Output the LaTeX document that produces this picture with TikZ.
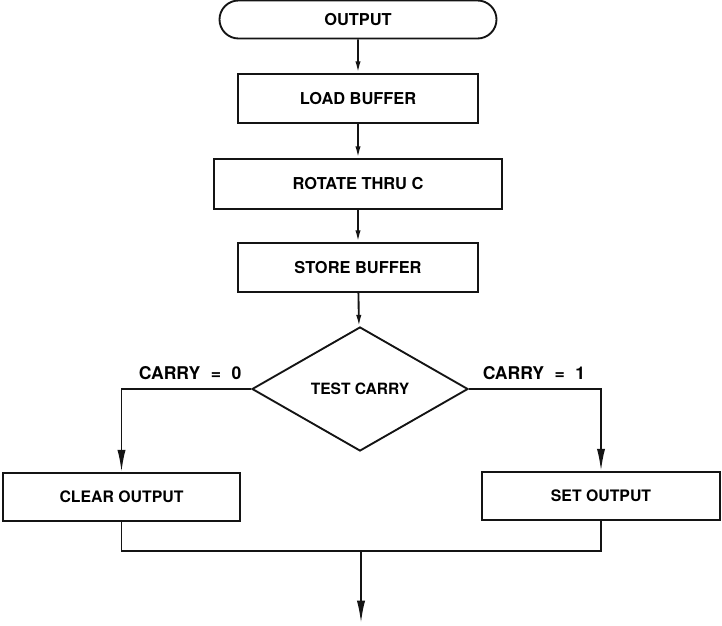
\documentclass[tikz,border=0pt]{standalone}
\usepackage{fontspec}
\setmainfont{TeX Gyre Heros}
\usepackage{tikz}
\usetikzlibrary{arrows.meta,shapes,positioning,calc}
\definecolor{inkBlack}{RGB}{20,20,20}

\begin{document}
\begin{tikzpicture}[
    line width=1.6pt,draw=inkBlack,
    caixa/.style={draw=inkBlack,rectangle,inner sep=0pt,line width=1.6pt,
      font=\bfseries\fontsize{14}{16}\selectfont},
    rotulo/.style={inner sep=0pt,font=\bfseries\fontsize{15}{17}\selectfont},
    seta/.style={-{Latex[length=10pt,width=4.5pt]}},
    setag/.style={-{Latex[length=19pt,width=7pt]}}]
        \useasboundingbox (0,0) rectangle (21.66,18.75);
        % Blocos
        \node[caixa,rounded rectangle,minimum width=8.31cm,minimum height=1.14cm]
          (saida) at (10.74,18.165) {OUTPUT};
        \node[caixa,minimum width=7.2cm,minimum height=1.47cm]
          (carrega) at (10.74,15.795) {LOAD BUFFER};
        \node[caixa,minimum width=8.64cm,minimum height=1.5cm]
          (roda) at (10.74,13.23) {ROTATE THRU C};
        \node[caixa,minimum width=7.2cm,minimum height=1.47cm]
          (guarda) at (10.74,10.725) {STORE BUFFER};
        \node[caixa,diamond,minimum width=6.48cm,minimum height=3.72cm,
          font=\bfseries\fontsize{13.3}{15}\selectfont]
          (teste) at (10.8,7.08) {TEST CARRY};
        \node[caixa,minimum width=7.11cm,minimum height=1.44cm,
          font=\bfseries\fontsize{13.5}{15}\selectfont]
          (limpa) at (3.645,3.84) {CLEAR OUTPUT};
        \node[caixa,minimum width=7.14cm,minimum height=1.44cm,
          font=\bfseries\fontsize{13.5}{15}\selectfont]
          (liga) at (18.03,3.87) {SET OUTPUT};
        \coordinate (junta) at (10.83,2.22);
        \coordinate (fim) at (10.83,0.06);
        % Rotulos
        \node[rotulo,anchor=south east,above left=7.5pt and 7.5pt of teste.west]
          (c0) {CARRY\hspace{0.6em}=\hspace{0.6em}0};
        \node[rotulo,anchor=south west,above right=7.5pt and 11pt of teste.east]
          (c1) {CARRY\hspace{0.6em}=\hspace{0.6em}1};
        % Ligacoes
        \draw[seta] (saida) -- (carrega);
        \draw[seta] (carrega) -- (roda);
        \draw[seta] (roda) -- (guarda);
        \draw[seta] (guarda) -- (teste);
        \draw[setag] (teste.west) -| (limpa.north);
        \draw[setag] (teste.east) -| (liga.north);
        \draw (limpa.south) |- (junta) -| (liga.south);
        \draw[setag] (junta) -- (fim);
\end{tikzpicture}
\end{document}
